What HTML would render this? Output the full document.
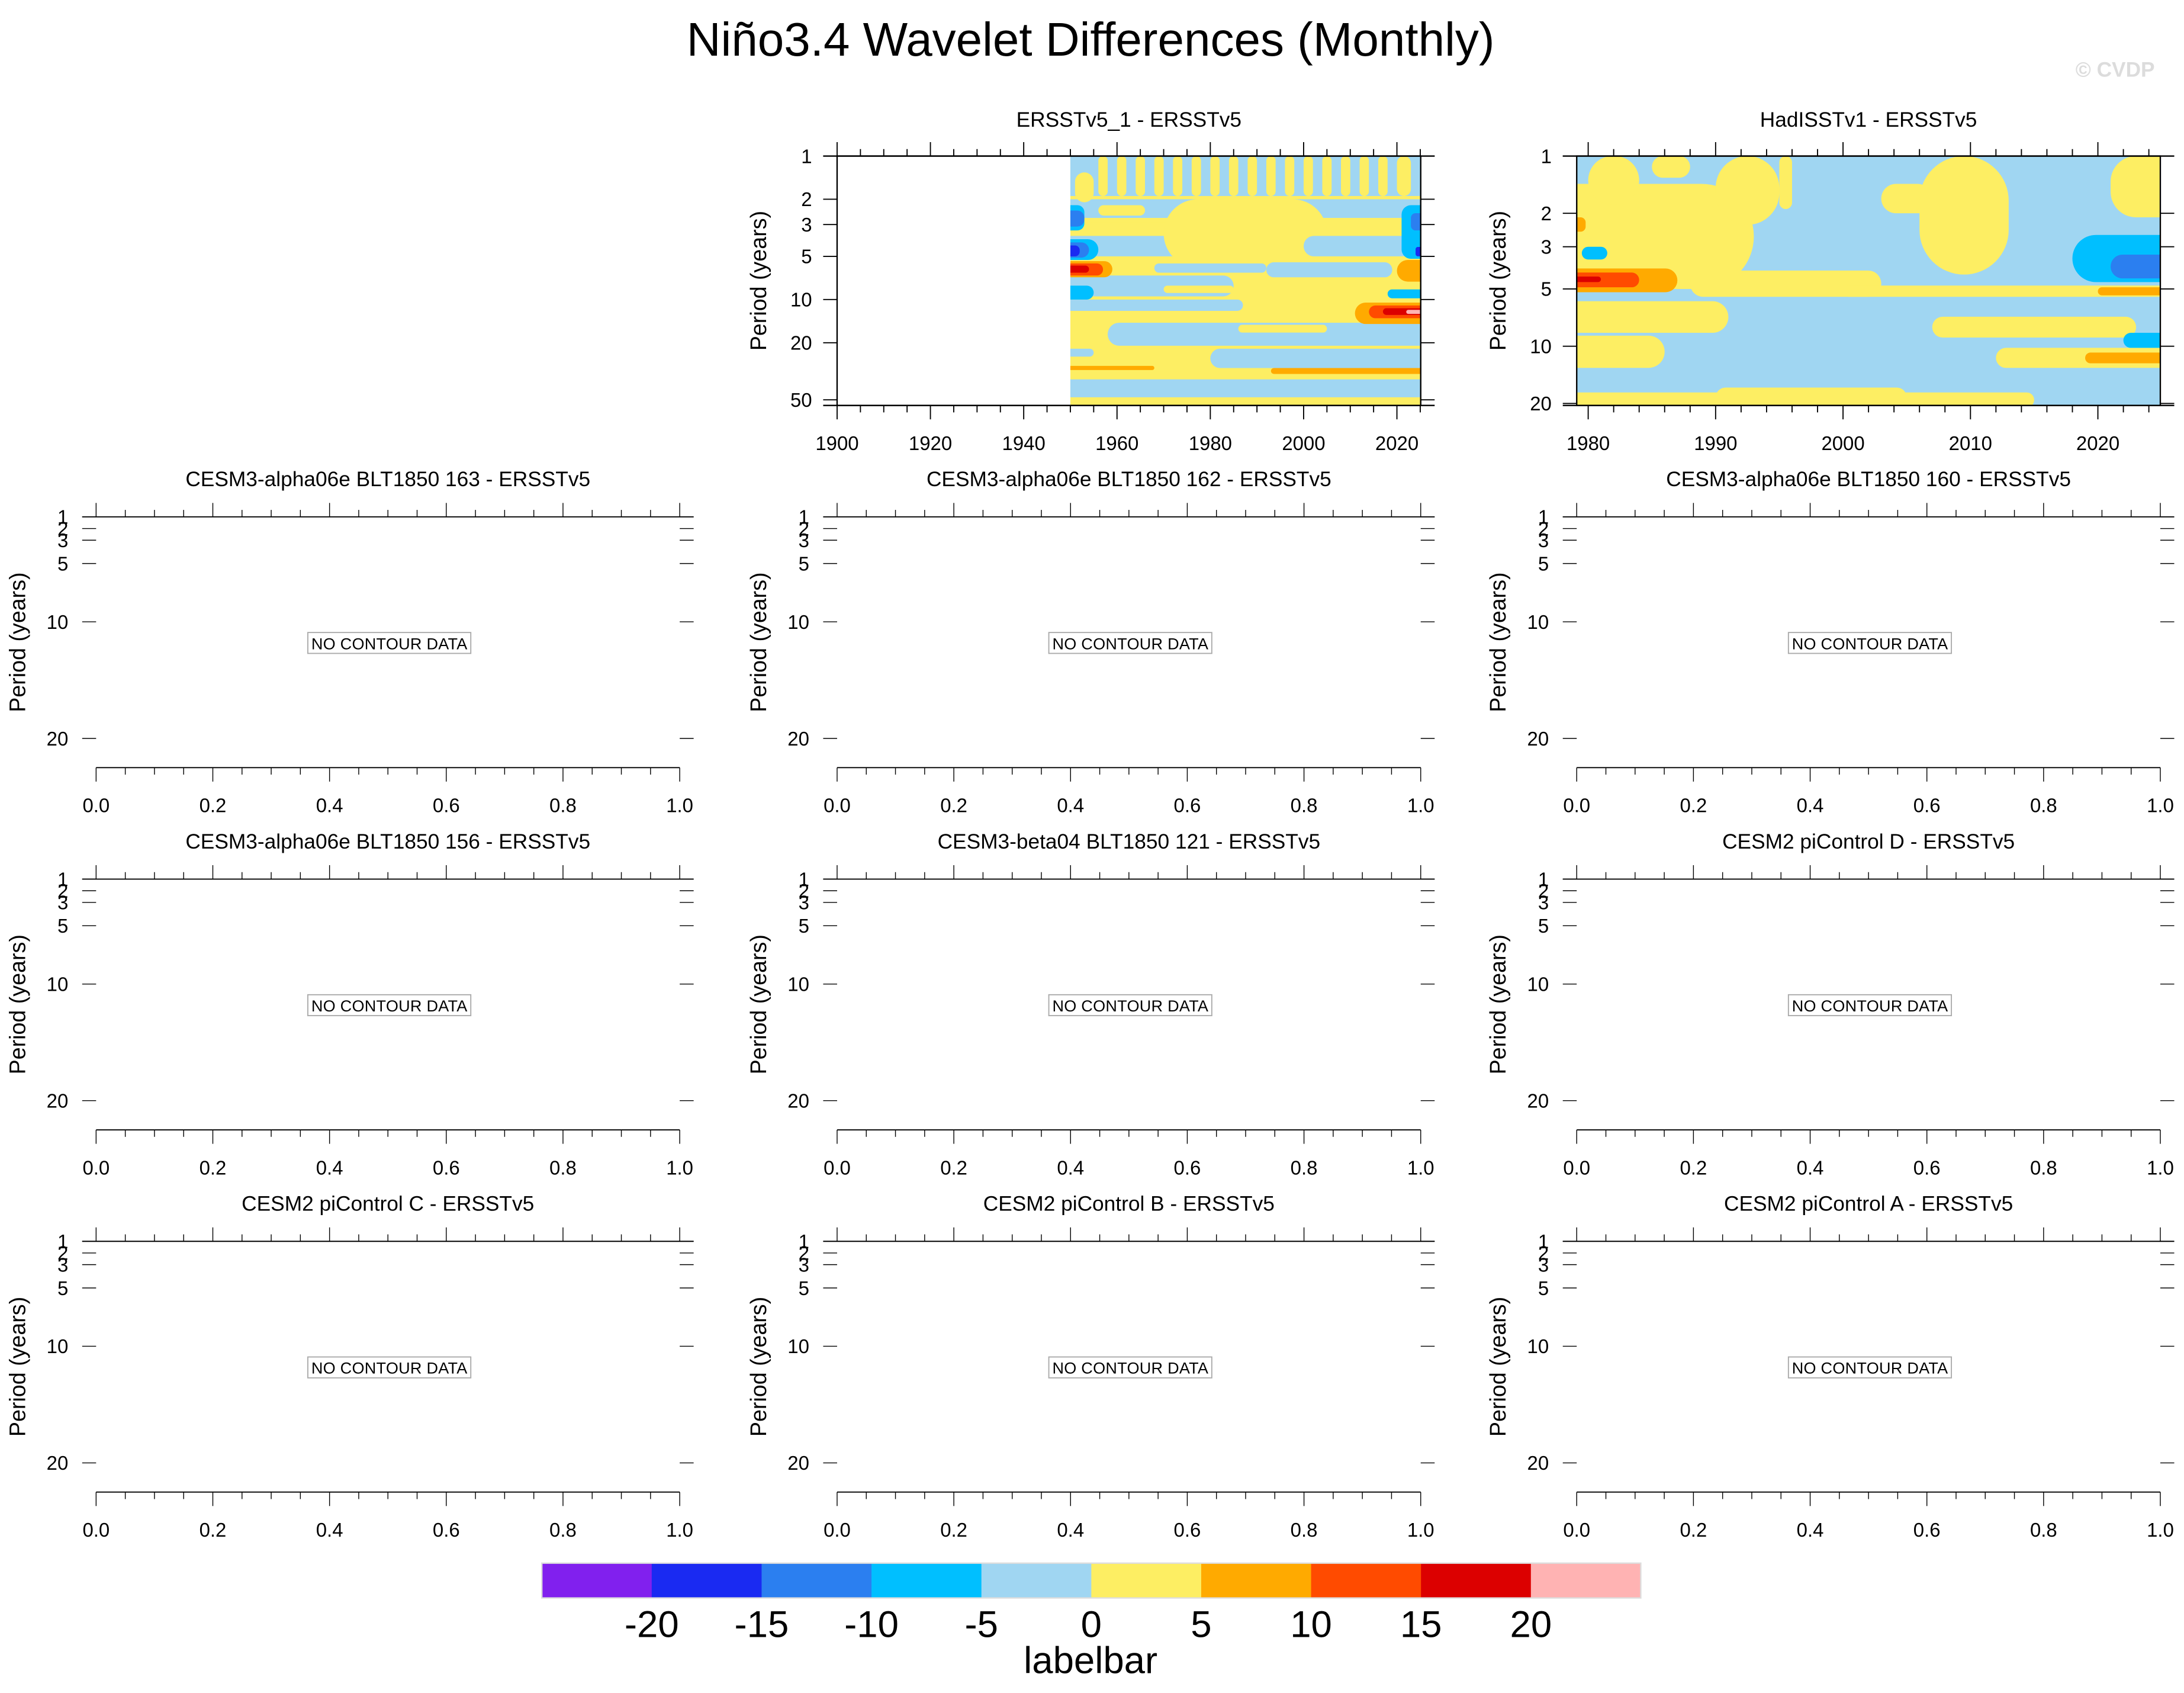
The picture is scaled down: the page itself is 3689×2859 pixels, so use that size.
<!DOCTYPE html>
<html><head><meta charset="utf-8"><style>
html,body{margin:0;padding:0;background:#fff}
svg{display:block}
text{font-family:"Liberation Sans",sans-serif}
</style></head><body>
<svg id="root" xmlns="http://www.w3.org/2000/svg" width="3689" height="2859" viewBox="0 0 1568 1215.2">
<rect x="0" y="0" width="1568" height="1215.2" fill="#fff"/>
<text x="783" y="40" font-size="34" text-anchor="middle">Niño3.4 Wavelet Differences (Monthly)</text>
<text x="1547" y="55" font-size="15" font-weight="bold" fill="#dcdcdc" text-anchor="end">© CVDP</text>
<g id="g"></g>
</svg>
<script>
const colors=['#8120ee','#1a2af2','#2b7ff0','#00bfff','#a0d6f2','#fdee63','#ffaa00','#ff4b00','#dc0000','#ffb3b3'];
const cbLabels=['-20','-15','-10','-5','0','5','10','15','20'];
// Panel 1 (ERSSTv5_1 - ERSSTv5) blobs: year start/end, period low/high, level
const p1X0=[1950,1950,1950,1951,1956,1960,1964,1968,1972,1976,1980,1984,1988,1992,1996,2000,2004,2008,2012,2016,2020,1956,1952,1950,1970,2000,1950,1968,1992,1970,1950,1958,1986,1980,1950,1950,1993,1950,1950,1950,1950,1950,1950,1950,1950,1950,1950,2021,2023,2024,2020,2018,2011,2014,2017,2022];
const p1X1=[2025,2025,2025,1955,1958,1962,1966,1970,1974,1978,1982,1986,1990,1994,1998,2002,2006,2010,2014,2018,2023,1966,1975,1980,2005,2025,1985,1992,2019,1985,1987,2025,2005,2025,1955,1968,2025,2025,1953,1953,1956,1954,1952,1959,1957,1954,1955,2025,2025,2025,2025,2025,2025,2025,2025,2025];
const p1P0=[1,1.0,2.0,1.3,1.0,1.0,1.0,1.0,1.0,1.0,1.0,1.0,1.0,1.0,1.0,1.0,1.0,1.0,1.0,1.0,1.0,2.2,2.9,3.6,2.0,3.6,6.8,5.6,5.5,8.0,10,14.5,15,22,22,29,30,36,2.2,2.4,3.8,4.0,4.2,5.4,5.6,5.8,8.0,2.2,2.5,4.3,5.3,8.5,10.5,11,11.5,11.8];
const p1P1=[54.7,1.9,2.7,2.1,1.9,1.9,1.9,1.9,1.9,1.9,1.9,1.9,1.9,1.9,1.9,1.9,1.9,1.9,1.9,1.9,1.9,2.6,3.6,5.0,6.0,5.0,9.5,6.5,7.0,9.0,12,21,17,30,25,31,33,48,3.3,3.1,5.3,5.1,5.0,7.0,6.8,6.5,10,5.2,3.3,5.0,7.5,9.8,14.8,13.5,12.8,12.6];
const p1Lev=[5,4,4,5,5,5,5,5,5,5,5,5,5,5,5,5,5,5,5,5,5,5,5,4,5,4,4,4,4,5,4,4,5,4,4,6,6,4,3,2,3,2,1,6,7,8,3,3,2,1,6,3,6,7,8,9];
// Panel 2 (HadISSTv1 - ERSSTv5) blobs
const p2X0=[1979,1979,1980,1985,1990,1995,2003,2006,2021,1988,2000,1979,1979,2007,2012,2019,1979,1990,1979,1979,1979,2018,2021,2020,2022,1979.5,1979];
const p2X1=[2025,1993,1984,1988,1995,1996,2007,2013,2025,2003,2025,1991,1986,2023,2025,2025,2015,2005,1987,1984,1981,2025,2025,2025,2025,1981.5,1979.8];
const p2P0=[1,1.4,1,1,1,1,1.4,1,1,4,4.8,5.8,8.8,7,10.2,10.8,17.5,16.5,3.9,4.1,4.3,2.6,3.3,4.9,8.5,3,2.1];
const p2P1=[20.5,5,1.8,1.3,2.3,1.9,2,4.2,2.1,5.5,5.5,8.5,13,9,13,12.3,21,21,5.2,4.9,4.6,4.6,4.4,5.4,10.2,3.5,2.5];
const p2Lev=[4,5,5,5,5,5,5,5,5,5,5,5,5,5,5,6,5,5,6,7,8,3,2,6,3,3,6];
const p1YTicks=[1,2,3,5,10,20,50];
const p2YTicks=[1,2,3,5,10,20];
const p1XTicks=[1900,1920,1940,1960,1980,2000,2020];
const p2XTicks=[1980,1990,2000,2010,2020];
const emptyYTicks=[1,2,3,5,10,20];
const emptyXTicks=[0,0.2,0.4,0.6,0.8,1.0];
const emptyTitles=['CESM3-alpha06e BLT1850 163 - ERSSTv5','CESM3-alpha06e BLT1850 162 - ERSSTv5','CESM3-alpha06e BLT1850 160 - ERSSTv5','CESM3-alpha06e BLT1850 156 - ERSSTv5','CESM3-beta04 BLT1850 121 - ERSSTv5','CESM2 piControl D - ERSSTv5','CESM2 piControl C - ERSSTv5','CESM2 piControl B - ERSSTv5','CESM2 piControl A - ERSSTv5'];

const NS='http://www.w3.org/2000/svg';
const G=document.getElementById('g');
function mk(tag,attrs,parent,txt){const e=document.createElementNS(NS,tag);for(const k in attrs)e.setAttribute(k,attrs[k]);if(txt!==undefined)e.textContent=txt;(parent||G).appendChild(e);return e;}
const colL=[69,601,1132], W=419;

function contourPanel(id,left,top,h,x0d,x1d,decPx,X0,X1,P0,P1,L,dataStart,title,xt,minorStep,yt){
  const xs=v=>left+(v-x0d)/(x1d-x0d)*W;
  const ys=p=>top+Math.log10(p)*decPx;
  const g=mk('g',{});
  
  
  const cp=mk('clipPath',{id:id+'-clip'},g);
  mk('rect',{x:xs(dataStart),y:top,width:left+W-xs(dataStart),height:h},cp);
  const cg=mk('g',{'clip-path':'url(#'+id+'-clip)'},g);
  for(let i=0;i<X0.length;i++){
    let a=xs(X0[i]),b=xs(X1[i]),c=ys(P0[i]),d=ys(P1[i]);
    if(i===0){a=xs(dataStart)-2;b=left+W+2;c=top-2;d=top+h+2;}
    const w=Math.max(2,b-a),hh=Math.max(2,d-c);
    const rr=i===0?0:Math.min(w,hh)/2;
    let ax=a,bw=w;
    if(i>0&&X1[i]>=x1d-0.3){bw+=rr;}
    if(i>0&&X0[i]<=dataStart+0.3){ax-=rr;bw+=rr;}
    const e=mk('rect',{x:ax,y:c,width:bw,height:hh,rx:rr,ry:rr,fill:colors[L[i]]},cg);
    
    
  }
  mk('rect',{x:left,y:top,width:W,height:h,fill:'none',stroke:'#000','stroke-width':1},g);
  mk('line',{x1:left-10,y1:top,x2:left+W+10,y2:top,stroke:'#000','stroke-width':1},g);
  mk('line',{x1:left-10,y1:top+h,x2:left+W+10,y2:top+h,stroke:'#000','stroke-width':1},g);
  const t=mk('text',{x:left+W/2,y:top-21,'font-size':15,'text-anchor':'middle'},g,title);
  
  
  for(let v=xt[0]-minorStep*Math.floor((xt[0]-x0d)/minorStep);v<=x1d;v+=minorStep){
    const x=xs(v);if(x<left-0.5)continue;
    const major=xt.some(m=>Math.abs(m-v)<1e-6);const len=major?10:5;
    mk('line',{x1:x,y1:top,x2:x,y2:top-len,stroke:'#000','stroke-width':0.8},g);
    mk('line',{x1:x,y1:top+h,x2:x,y2:top+h+len,stroke:'#000','stroke-width':0.8},g);
  }
  xt.forEach(v=>{const l=mk('text',{x:xs(v),y:top+h+32,'font-size':14,'text-anchor':'middle'},g,String(v));
    
    });
  yt.forEach(v=>{const y=ys(v);
    mk('line',{x1:left-10,y1:y,x2:left,y2:y,stroke:'#000','stroke-width':0.8},g);
    mk('line',{x1:left+W,y1:y,x2:left+W+10,y2:y,stroke:'#000','stroke-width':0.8},g);
    const l=mk('text',{x:left-18,y:y+5,'font-size':14,'text-anchor':'end'},g,String(v));
    
    });
  const yl=mk('text',{x:0,y:0,'font-size':16,'text-anchor':'middle',transform:`translate(${left-51},${top+h/2}) rotate(-90)`},g,'Period (years)');
  
  
}
contourPanel('panel-ersstv5-1',601,112,179,1900,2025.1,103,p1X0,p1X1,p1P0,p1P1,p1Lev,1950,'ERSSTv5_1 - ERSSTv5',p1XTicks,5,p1YTicks);
contourPanel('panel-hadisstv1',1132,112,179,1979.1,2024.9,136.5,p2X0,p2X1,p2P0,p2P1,p2Lev,1979.1,'HadISSTv1 - ERSSTv5',p2XTicks,2,p2YTicks);

function emptyPanel(idx,left,top){
  const h=180;
  const xs=v=>left+v*W;
  const ys=v=>top+(v-1)*8.37;
  const g=mk('g',{});
  
  
  mk('line',{x1:left-10,y1:top,x2:left+W+10,y2:top,stroke:'#000','stroke-width':0.8},g);
  mk('line',{x1:left,y1:top+h,x2:left+W,y2:top+h,stroke:'#000','stroke-width':0.8},g);
  const t=mk('text',{x:left+W/2,y:top-22,'font-size':15,'text-anchor':'middle'},g,emptyTitles[idx]);
  
  
  for(let k=0;k<=20;k++){const v=k*0.05,x=xs(v),len=(k%4===0)?10:5;
    mk('line',{x1:x,y1:top,x2:x,y2:top-len,stroke:'#000','stroke-width':0.6},g);
    mk('line',{x1:x,y1:top+h,x2:x,y2:top+h+len,stroke:'#000','stroke-width':0.6},g);}
  emptyXTicks.forEach(v=>{const l=mk('text',{x:xs(v),y:top+h+32,'font-size':14,'text-anchor':'middle'},g,v.toFixed(1));
    
    });
  emptyYTicks.forEach(v=>{const y=ys(v);
    mk('line',{x1:left-10,y1:y,x2:left,y2:y,stroke:'#000','stroke-width':0.6},g);
    mk('line',{x1:left+W,y1:y,x2:left+W+10,y2:y,stroke:'#000','stroke-width':0.6},g);
    const l=mk('text',{x:left-20,y:y+5,'font-size':14,'text-anchor':'end'},g,String(v));
    
    });
  const yl=mk('text',{x:0,y:0,'font-size':16,'text-anchor':'middle',transform:`translate(${left-51},${top+h/2}) rotate(-90)`},g,'Period (years)');
  
  
  mk('rect',{x:left+152,y:top+83,width:117,height:15,fill:'#fff',stroke:'#aaa','stroke-width':0.8},g);
  const n=mk('text',{x:left+210.5,y:top+95,'font-size':11.5,'text-anchor':'middle',textLength:112},g,'NO CONTOUR DATA');
  
  
}
const emptyPos=[[0,371],[1,371],[2,371],[0,631],[1,631],[2,631],[0,891],[1,891],[2,891]];
emptyPos.forEach((p,i)=>emptyPanel(i,colL[p[0]],p[1]));

// colorbar
const cb=mk('g',{});


const cbX=389,cbW=789/colors.length;
colors.forEach((c,i)=>{const r=mk('rect',{x:cbX+i*cbW,y:1122,width:cbW+0.3,height:25,fill:c},cb);
  
  });
mk('rect',{x:cbX,y:1122,width:789,height:25,fill:'none',stroke:'#ddd','stroke-width':1},cb);
cbLabels.forEach((s,i)=>{const l=mk('text',{x:cbX+(i+1)*cbW,y:1175,'font-size':27,'text-anchor':'middle'},cb,s);
  
  });
const lt=mk('text',{x:783,y:1201,'font-size':27,'text-anchor':'middle'},cb,'labelbar');


</script>
</body></html>
